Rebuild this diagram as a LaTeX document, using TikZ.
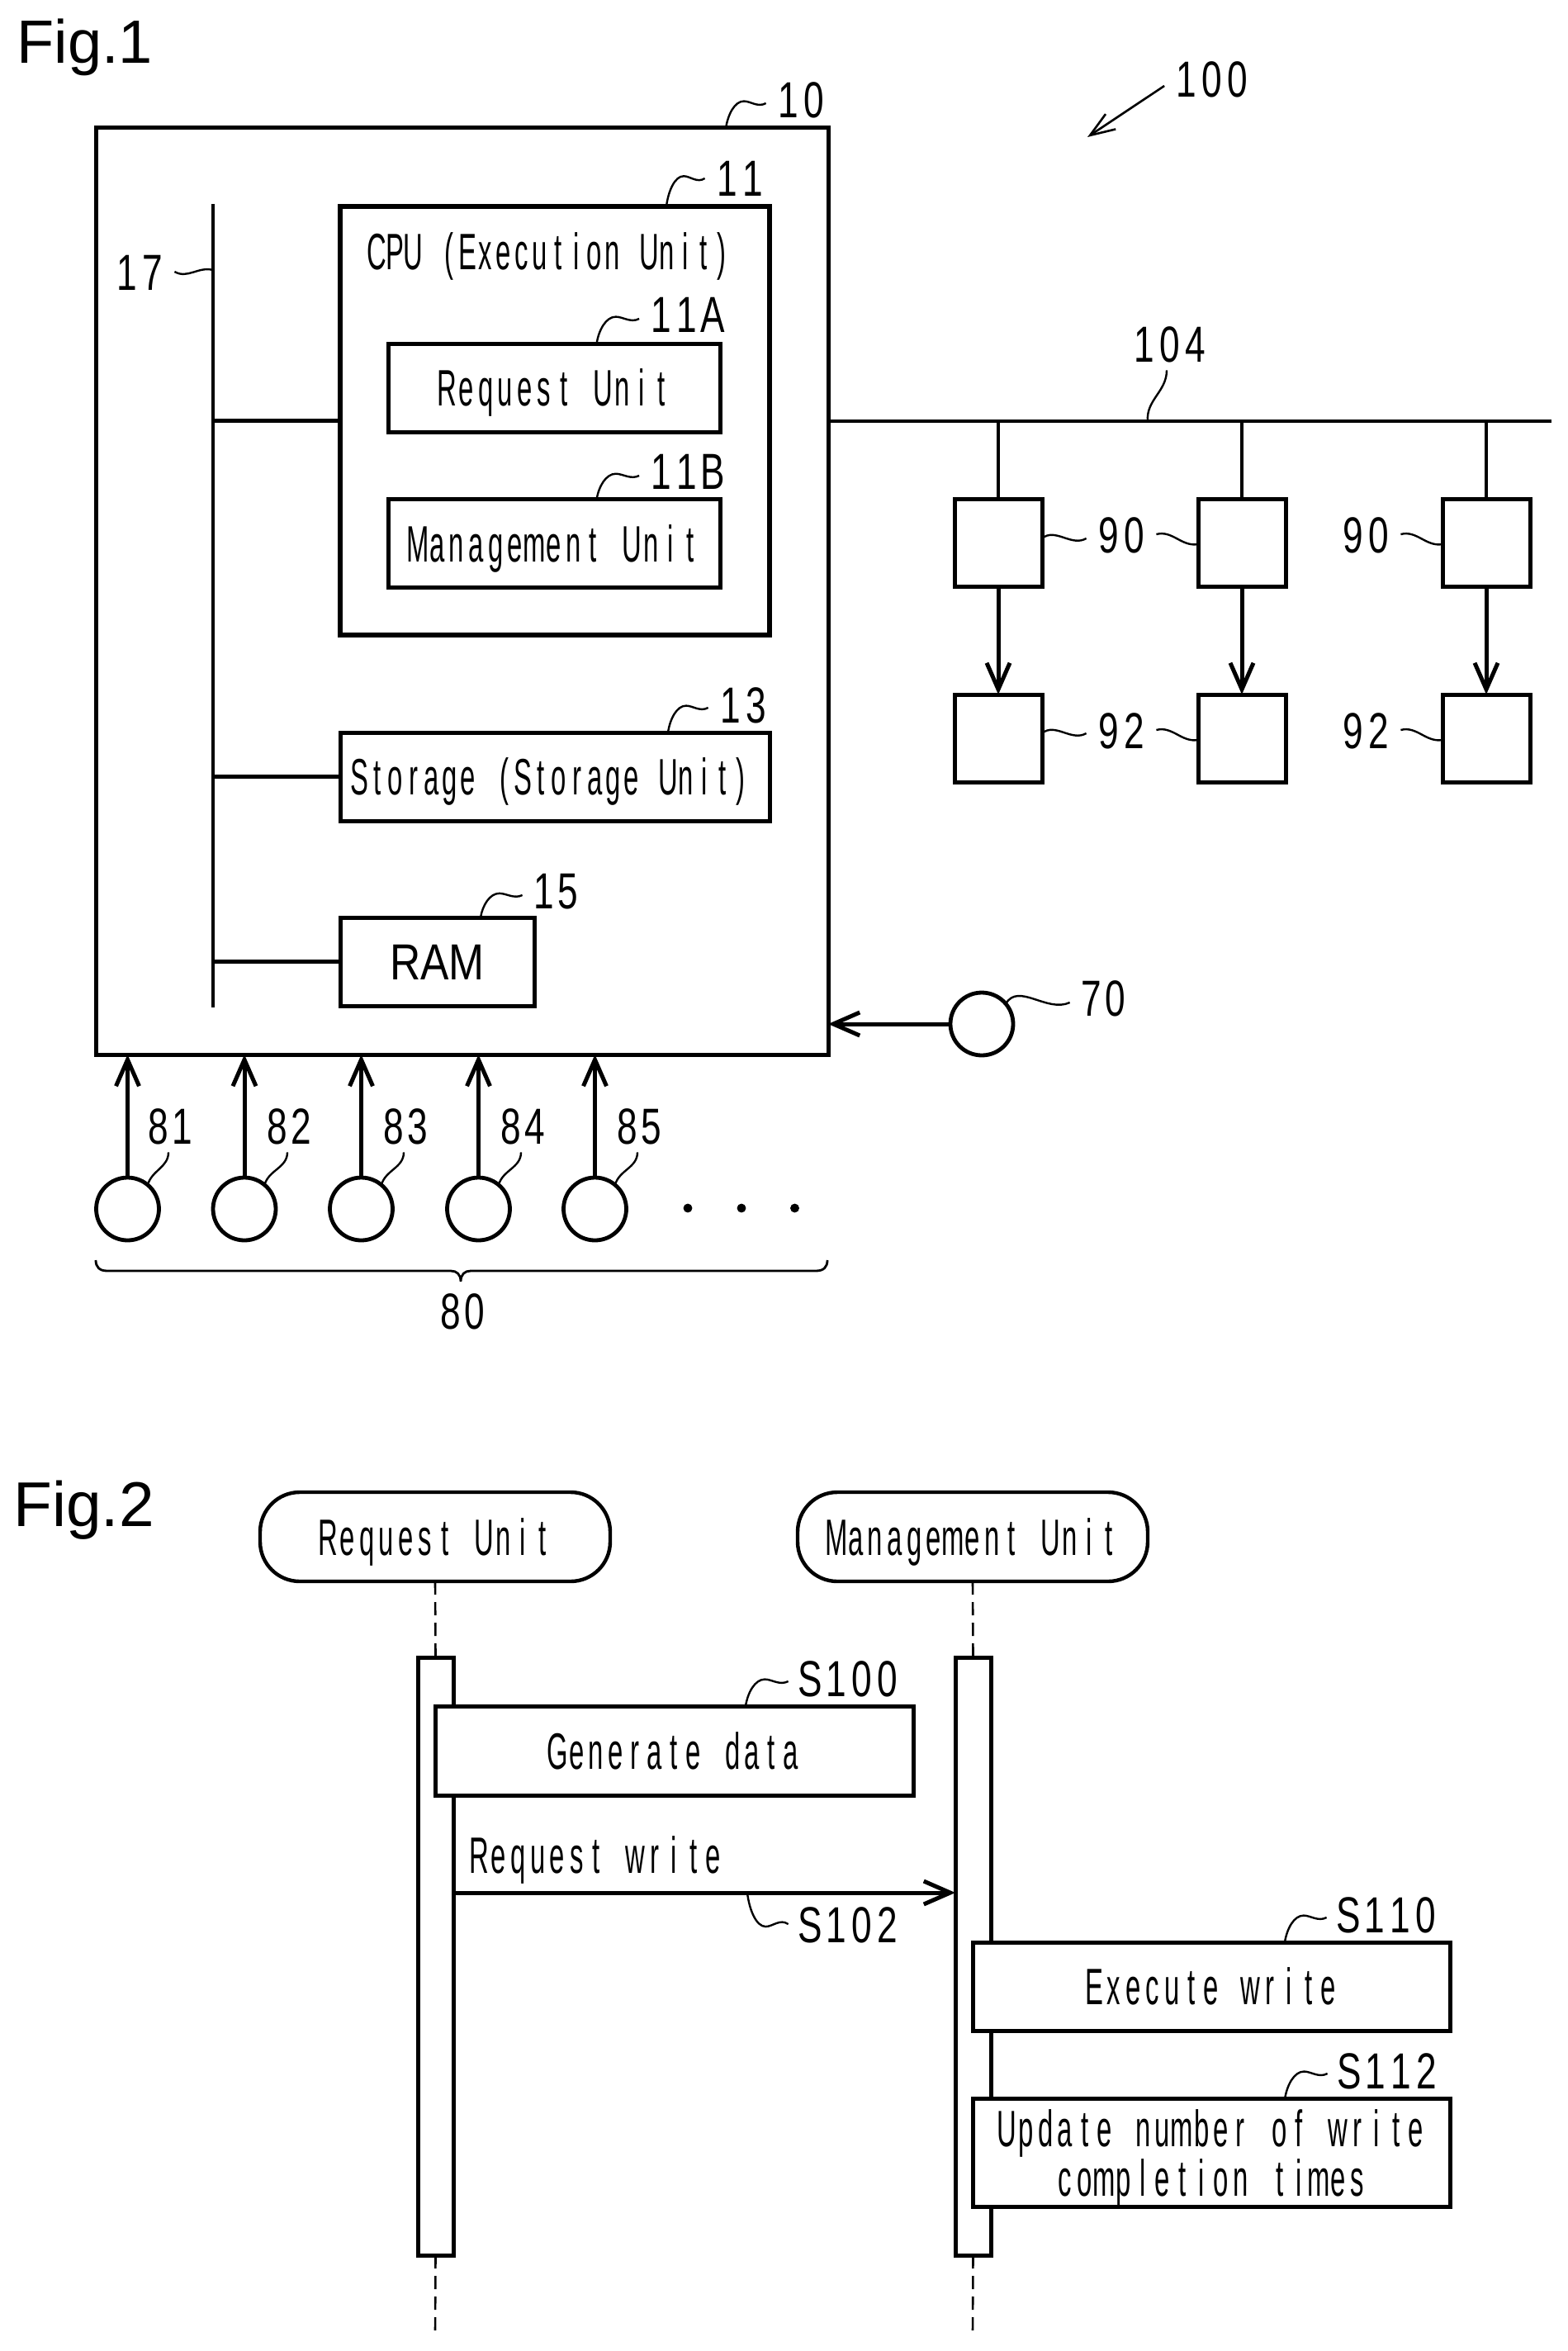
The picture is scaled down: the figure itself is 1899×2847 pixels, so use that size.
\documentclass[tikz,border=0pt]{standalone}
\usepackage{fontspec}
\usetikzlibrary{arrows.meta,calc}
\setmainfont{Liberation Sans}
\newfontfamily\fstxt[FakeStretch=0.53]{Liberation Sans}
\newfontfamily\fsnum[FakeStretch=0.72]{Liberation Sans}
\newfontfamily\fsram[FakeStretch=0.84]{Liberation Sans}
\ExplSyntaxOn
\NewDocumentCommand\pitched{mm}{\str_map_inline:nn{#2}{\makebox[#1][c]{##1}}}
\ExplSyntaxOff
\newcommand\tx[1]{\pitched{11.8pt}{#1}}
\newcommand\txn[1]{\pitched{11pt}{#1}}
\newcommand\nm[1]{\pitched{15.5pt}{#1}}
\newcommand\nms[1]{\pitched{14.5pt}{#1}}
% wavy lead line: rises from #1, rounds over, dips, ends at #2
\newcommand\leadwave[2]{%
  \draw[leader] let \p1=(#1),\p2=(#2) in (\p1)
    .. controls ({\x1+.05*(\x2-\x1)},{\y1+.55*(\y2-\y1)}) and ({\x1+.22*(\x2-\x1)},{\y1+1.08*(\y2-\y1)})
    .. ({\x1+.45*(\x2-\x1)},{\y1+1.08*(\y2-\y1)})
    .. controls ({\x1+.62*(\x2-\x1)},{\y1+1.08*(\y2-\y1)}) and ({\x1+.8*(\x2-\x1)},{\y1+.82*(\y2-\y1)})
    .. (\p2);}
\tikzset{
  fig/.style={font=\fontsize{37}{37}\selectfont,inner sep=0pt,anchor=base west},
  box/.style={draw,fill=white,line width=2.5pt,inner sep=0pt,outer sep=0pt,font=\fstxt\fontsize{31}{32}\selectfont,text height=22pt,text depth=0pt},
  mbox/.style={draw,fill=white,line width=2.5pt,inner sep=0pt,outer sep=0pt,font=\fstxt\fontsize{31}{30}\selectfont,align=center},
  txt/.style={inner sep=0pt,font=\fstxt\fontsize{31}{32}\selectfont,text height=22pt,text depth=0pt},
  sq/.style={draw,line width=2.5pt,inner sep=0pt,outer sep=0pt,minimum width=53pt,minimum height=53pt},
  circ/.style={draw,circle,line width=2.4pt,inner sep=0pt,outer sep=0pt,minimum size=38pt},
  dotn/.style={draw,circle,fill,inner sep=0pt,minimum size=5pt},
  lab/.style={font=\fsnum\fontsize{30.7}{32}\selectfont,inner xsep=5.5pt,inner ysep=0pt,text height=22pt,text depth=0pt},
  leader/.style={line width=1.2pt},
  lline/.style={line width=2.3pt},
  arr/.style={line width=2.5pt,-{Straight Barb[length=16pt,width=14pt,line width=2.5pt]}},
  thinarr/.style={line width=1.3pt,-{Straight Barb[length=15pt,width=11pt,line width=1.3pt]}},
  dashline/.style={line width=1.3pt,dash pattern=on 8pt off 4.5pt},
  barn/.style={draw,fill=white,line width=2.5pt,inner sep=0pt,outer sep=0pt,minimum width=21.5pt},
  pill/.style={draw,rounded corners=24pt,line width=2.2pt,inner sep=0pt,outer sep=0pt,minimum width=212pt,minimum height=54pt,font=\fstxt\fontsize{31}{32}\selectfont,text height=22pt,text depth=0pt},
}
\begin{document}
\begin{tikzpicture}[x=0.5pt,y=-0.5pt]
\useasboundingbox[fill=white] (0,0) rectangle (1899,2847);
% ---------- Fig.1
\node[fig] (fig1) at (20,76.5) {Fig.1};
\node[box,minimum width=443.5pt,minimum height=561pt] (box10) at (559.5,716) {};
\coordinate (bus17top) at (258,247);
\coordinate (bus17bot) at (258,1220);
\draw[lline] (bus17top) -- (bus17bot);
\node[box,minimum width=260pt,minimum height=259.5pt,line width=3pt] (box11) at (672,509.5) {};
\node[txt] (cpuText) at (665,304) {\txn{CPU (Execution Unit)}};
\node[box,minimum width=201pt,minimum height=53.5pt] (reqBox) at (671,469.5) {\tx{Request Unit}};
\node[box,minimum width=201pt,minimum height=53.5pt] (mgmtBox) at (671,658) {\tx{Management Unit}};
\node[box,minimum width=260pt,minimum height=53.5pt] (storBox) at (672,940.5) {\hspace*{-6pt}\txn{Storage (Storage Unit)}};
\node[box,minimum width=117.5pt,minimum height=53.5pt,font=\fsram\fontsize{30.7}{32}\selectfont] (ramBox) at (529.5,1164.5) {RAM};
\draw[lline] (box11.west -| bus17top) -- (box11.west);
\draw[lline] (storBox.west -| bus17top) -- (storBox.west);
\draw[lline] (ramBox.west -| bus17top) -- (ramBox.west);
% labels in box 10
\node[lab] (lab10) at (970,121) {\nm{10}};
\node[lab] (lab11) at (896,216) {\nm{11}};
\node[lab] (lab17) at (169,329) {\nm{17}};
\node[lab] (lab11A) at (832,380) {\nm{11A}};
\node[lab] (lab11B) at (832,570) {\nm{11B}};
\node[lab] (lab13) at (900,853) {\nm{13}};
\node[lab] (lab15) at (673,1078) {\nms{15}};
\coordinate (l10) at (879,155.6);
\coordinate (l11) at (807,250);
\coordinate (l17) at (258,327);
\coordinate (l11A) at (722.6,416);
\coordinate (l11B) at (722.6,604.6);
\coordinate (l13) at (809,887);
\coordinate (l15) at (582,1111);
\leadwave{l10}{$(lab10.west)+(0,-2pt)$}
\leadwave{l11}{lab11.west}
\leadwave{l11A}{$(lab11A.west)+(0,-3pt)$}
\leadwave{l11B}{$(lab11B.west)+(0,-3pt)$}
\leadwave{l13}{$(lab13.west)+(0,-2pt)$}
\leadwave{l15}{$(lab15.west)+(0,-3pt)$}
\draw[leader] (lab17.east) to[out=-30,in=165] (l17);
% right side
\node[lab] (lab100) at (1468,96) {\nm{100}};
\coordinate (tip100) at (1317,166);
\draw[thinarr] ([yshift=-4pt]lab100.west) -- (tip100);
\coordinate (busEnd) at (1879,510);
\draw[lline] (box10.east |- busEnd) -- (busEnd);
\node[lab] (lab104) at (1417,416) {\nm{104}};
\coordinate (l104) at (1390,510);
\draw[leader] ([xshift=-2pt,yshift=-5pt]lab104.south) to[out=-90,in=95] (l104);
\node[sq] (a90) at (1209,657) {};
\node[sq] (b90) at (1504,657) {};
\node[sq] (c90) at (1800,657) {};
\node[sq] (a92) at (1209,894) {};
\node[sq] (b92) at (1504,894) {};
\node[sq] (c92) at (1800,894) {};
\foreach \n in {a,b,c}{
  \draw[lline] (\n90.north |- busEnd) -- (\n90.north);
  \draw[arr] (\n90.south) -- (\n92.north);
}
\node[lab] (lab90a) at (1358,647) {\nm{90}};
\node[lab] (lab90c) at (1654,647) {\nm{90}};
\node[lab] (lab92a) at (1358,884) {\nm{92}};
\node[lab] (lab92c) at (1654,884) {\nm{92}};
\draw[leader] ([yshift=2.5pt]a90.east) to[out=40,in=210] ([yshift=-2.5pt]lab90a.west);
\draw[leader] (lab90a.east) to[out=15,in=190] ([yshift=-1pt]b90.west);
\draw[leader] (lab90c.east) to[out=15,in=190] ([yshift=-1pt]c90.west);
\draw[leader] ([yshift=3pt]a92.east) to[out=40,in=210] ([yshift=-2pt]lab92a.west);
\draw[leader] (lab92a.east) to[out=15,in=190] ([yshift=-1pt]b92.west);
\draw[leader] (lab92c.east) to[out=15,in=190] ([yshift=-1pt]c92.west);
% sensors
\node[circ] (c70) at (1189,1240) {};
\draw[arr] (c70.west) -- (c70.west -| box10.east);
\node[lab] (lab70) at (1336,1208) {\nms{70}};
\draw[leader] (c70.40) to[out=60,in=205] ([yshift=-3pt]lab70.west);
\foreach \n/\x/\lx in {81/154.5/206,82/296/350,83/437.5/491,84/579.5/633,85/720.5/774}{
  \node[circ] (c\n) at (\x,1464) {};
  \draw[arr] (c\n.north) -- (c\n.north |- box10.south);
  \edef\labtext{\noexpand\nms{\n}}
  \node[lab] (lab\n) at (\lx,1363) {\labtext};
  \draw[leader] (c\n.50) to[out=75,in=-90] ([xshift=-1pt,yshift=-5pt]lab\n.south);
}
\node[dotn] (d1) at (833,1463) {};
\node[dotn] (d2) at (898,1463) {};
\node[dotn] (d3) at (962.5,1463) {};
\coordinate (brL) at (116,1526);
\coordinate (brR) at (1002,1526);
\coordinate (brT) at (558,1552);
\draw[line width=1.4pt] (brL) .. controls (116,1534) and (120,1539) .. (130,1539) -- (546,1539) .. controls (553,1539) and (558,1543) .. (brT) .. controls (558,1543) and (563,1539) .. (570,1539) -- (988,1539) .. controls (998,1539) and (1002,1534) .. (brR);
\node[lab] (lab80) at (560,1587) {\nms{80}};
% ---------- Fig.2
\node[fig,font=\fontsize{38.3}{38}\selectfont] (fig2) at (16,1848) {Fig.2};
\node[pill] (pillR) at (527,1861) {\tx{Request Unit}};
\node[pill] (pillM) at (1178,1861) {\tx{Management Unit}};
\node[barn,minimum height=362pt] (barR) at (527.5,2369) {};
\node[barn,minimum height=362pt] (barM) at (1178.5,2369) {};
\coordinate (endR) at (527,2826);
\coordinate (endM) at (1178,2826);
\draw[dashline] (pillR.south) -- (barR.north);
\draw[dashline] (pillM.south) -- (barM.north);
\draw[dashline] (barR.south) -- (endR);
\draw[dashline] (barM.south) -- (endM);
\node[box,minimum width=289.5pt,minimum height=54pt] (genBox) at (816.5,2120) {\tx{Generate data}};
\node[txt] (reqWrite) at (722,2246) {\tx{Request write}};
\coordinate (reqY) at (0,2292);
\draw[arr] (barR.east |- reqY) -- (barM.west |- reqY);
\node[box,minimum width=289pt,minimum height=53.5pt] (execBox) at (1467,2405.5) {\tx{Execute write}};
\node[mbox,minimum width=289pt,minimum height=65pt] (updBox) at (1467,2607) {\rule{0pt}{29pt}\tx{Update number of write}\\\tx{completion times}};
\node[lab] (s100) at (1028,2032) {\nm{S100}};
\node[lab] (s102) at (1028,2330) {\nm{S102}};
\node[lab] (s110) at (1680,2318) {\nm{S110}};
\node[lab] (s112) at (1681,2507) {\nm{S112}};
\coordinate (ls100) at (903,2066);
\coordinate (ls102) at (905,2292);
\coordinate (ls110) at (1556,2352);
\coordinate (ls112) at (1556,2542);
\leadwave{ls100}{$(s100.west)+(0,-2pt)$}
\leadwave{ls102}{s102.west}
\leadwave{ls110}{$(s110.west)+(0,-2pt)$}
\leadwave{ls112}{$(s112.west)+(0,-2pt)$}
\end{tikzpicture}
\end{document}
